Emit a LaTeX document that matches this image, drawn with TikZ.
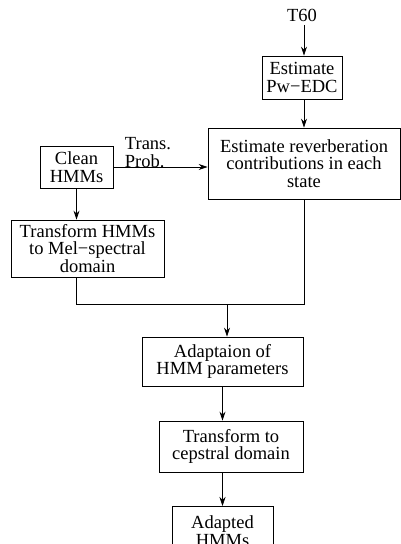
\documentclass[tikz,border=0pt]{standalone}
\usepackage{fontspec}
\setmainfont{Liberation Serif}
\usetikzlibrary{arrows.meta}

\begin{document}
\begin{tikzpicture}[x=1pt, y=-1pt,
		box/.style={draw, line width=0.8pt, align=center, inner sep=0pt},
		flow/.style={line width=0.8pt, -{Stealth[length=9pt, width=6pt]}},
		font=\fontsize{18.5}{17.5}\selectfont]
	\useasboundingbox (0,0) rectangle (401,544);
	\coordinate (J) at (227,304);
	
	\node (t60) at (302,15) {T60};
	\node[box, minimum width=80pt, minimum height=43pt] (pw) at (302,77.5) {Estimate\\ Pw−EDC};
	\node[box, minimum width=192pt, minimum height=71pt] (rev) at (304,163.5) {Estimate reverberation\\ contributions in each\\ state};
	\node[box, minimum width=73pt, minimum height=42pt] (clean) at (76.5,167) {Clean\\ HMMs};
	\node[box, minimum width=153pt, minimum height=57pt] (mel) at (87.5,248.5) {Transform HMMs\\ to Mel−spectral\\ domain};
	\node[box, minimum width=161pt, minimum height=49pt] (adapt) at (222.5,361.5) {Adaptaion of\\ HMM parameters};
	\node[box, minimum width=144pt, minimum height=51pt] (ceps) at (231,446.5) {Transform to\\ cepstral domain};
	\node[box, minimum width=101pt, minimum height=50pt, anchor=north] (out) at (222.5,506) {Adapted\\ HMMs};
	\node[align=left, inner sep=0pt] (tp) at (148,152.5) {Trans.\\ Prob.};
	
	\draw[flow] (t60.south -| rev) -- (pw.north -| rev);
	\draw[flow] (pw.south -| rev) -- (rev.north);
	\draw[flow] (clean.east) -- (rev.west |- clean.east);
	\draw[flow] (clean.south) -- (mel.north -| clean.south);
	\draw[line width=0.8pt] (mel.south -| clean.south) |- (rev.south |- J) -- (rev.south);
	\draw[flow] (J) -- (adapt.north -| J);
	\draw[flow] (adapt.south) -- (adapt.south |- ceps.north);
	\draw[flow] (out.north |- ceps.south) -- (out.north);
\end{tikzpicture}
\end{document}
